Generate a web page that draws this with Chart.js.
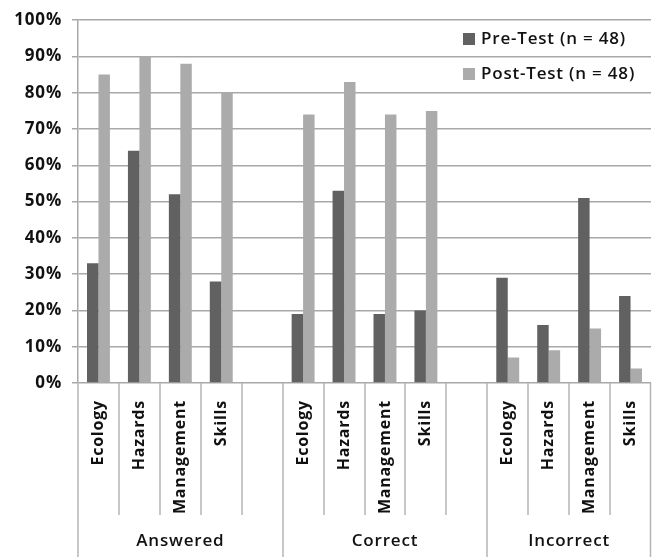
<!DOCTYPE html>
<html>
<head>
<meta charset="utf-8">
<script src="https://cdn.jsdelivr.net/npm/chart.js@4/dist/chart.umd.min.js"></script>
<style>
html,body{margin:0;padding:0;background:#fff}
#wrap{width:652px;height:557px}
</style>
</head>
<body>
<div id="wrap"><canvas id="chart" width="652" height="557"></canvas></div>
<script>
const groups=["Answered","Correct","Incorrect"]
const topics=["Ecology","Hazards","Management","Skills"]
const preAnswered=[33,64,52,28]
const postAnswered=[85,90,88,80]
const preCorrect=[19,53,19,20]
const postCorrect=[74,83,74,75]
const preIncorrect=[29,16,51,24]
const postIncorrect=[7,9,15,4]
const yTicks=[0,10,20,30,40,50,60,70,80,90,100]

// one empty slot between groups
const labels=[...topics,"",...topics,"",...topics]
const preTest=[...preAnswered,null,...preCorrect,null,...preIncorrect]
const postTest=[...postAnswered,null,...postCorrect,null,...postIncorrect]

const FONT="'Open Sans', sans-serif"

const spacing={
    id:"spacing",
    beforeDraw(chart){
        chart.ctx.letterSpacing="0.8px"
    }
}

const axisExtras={
    id:"axisExtras",
    afterDraw(chart){
        const ctx=chart.ctx
        const x=chart.scales.x
        const area=chart.chartArea
        const slot=x.getPixelForValue(1)-x.getPixelForValue(0)
        const start=x.getPixelForValue(0)-slot/2
        // group boundaries (in slots)
        const bounds=[0,5,10,14]
        ctx.save()
        ctx.letterSpacing="0.8px"
        ctx.strokeStyle="#b4b4b4"
        ctx.lineWidth=1.5
        for(let b=0;b<=14;b++){
            const px=Math.min(Math.round(start+b*slot),chart.width-1.5)
            const long=bounds.includes(b)
            ctx.beginPath()
            ctx.moveTo(px,area.bottom)
            ctx.lineTo(px,long?chart.height:515)
            ctx.stroke()
        }
        ctx.fillStyle="#111"
        ctx.font="600 17px "+FONT
        ctx.textAlign="center"
        ctx.textBaseline="middle"
        groups.forEach((g,i)=>{
            const cx=start+(bounds[i]+bounds[i+1])/2*slot
            ctx.fillText(g,cx,541)
        })
        // legend
        ctx.font="600 17px "+FONT
        ctx.textAlign="left"
        chart.data.datasets.forEach((ds,i)=>{
            const cy=39+i*35
            ctx.fillStyle=ds.backgroundColor
            ctx.fillRect(463,cy-6,12,12)
            ctx.fillStyle="#111"
            ctx.fillText(ds.label,481,cy)
        })
        ctx.restore()
    }
}

new Chart(document.getElementById("chart"),{
    type:"bar",
    data:{
        labels:labels,
        datasets:[
            {
                label:"Pre-Test (n = 48)",
                data:preTest,
                backgroundColor:"#616161"
            },
            {
                label:"Post-Test (n = 48)",
                data:postTest,
                backgroundColor:"#ababab"
            }
        ]
    },
    options:{
        responsive:false,
        animation:false,
        categoryPercentage:0.56,
        barPercentage:1,
        layout:{padding:{top:20,right:1,left:0,bottom:0}},
        plugins:{
            legend:{display:false},
            tooltip:{enabled:false}
        },
        scales:{
            x:{
                offset:true,
                grid:{display:false},
                border:{display:false},
                ticks:{
                    minRotation:90,
                    maxRotation:90,
                    autoSkip:false,
                    padding:9,
                    color:"#111",
                    font:{family:FONT,size:16,weight:"bold"}
                },
                afterFit(s){
                    s.height=174
                    s.paddingLeft=0
                    s.paddingRight=0
                }
            },
            y:{
                min:0,
                max:100,
                afterBuildTicks(s){s.ticks=yTicks.map(v=>({value:v}))},
                grid:{color:"#a8a8a8",lineWidth:1.5,tickLength:6},
                border:{color:"#a8a8a8",width:1.5},
                ticks:{
                    padding:10,
                    color:"#111",
                    font:{family:FONT,size:17,weight:"bold"},
                    callback:v=>v+"%"
                },
                afterFit(s){s.width=78}
            }
        }
    },
    plugins:[spacing,axisExtras]
})
</script>
</body>
</html>
